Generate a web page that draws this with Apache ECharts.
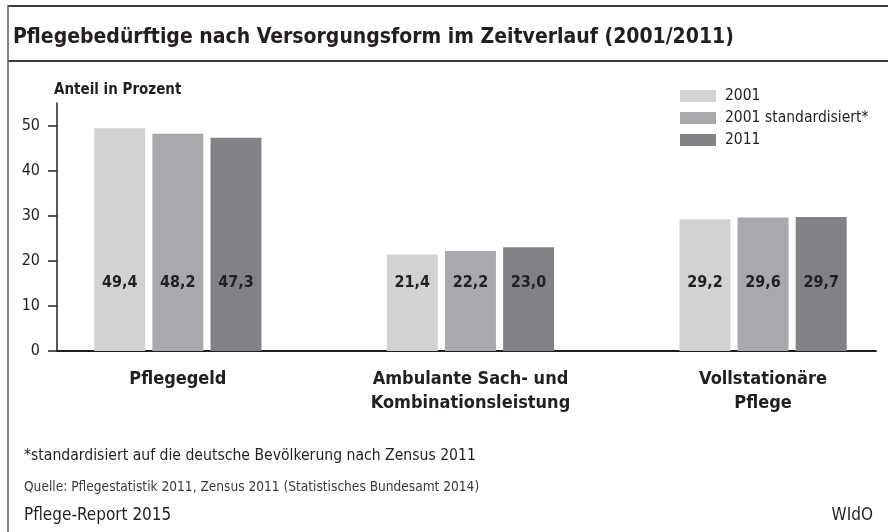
<!DOCTYPE html>
<html>
<head>
<meta charset="utf-8">
<script src="https://cdn.jsdelivr.net/npm/echarts@6/dist/echarts.min.js"></script>
<style>
  html, body { margin: 0; padding: 0; background: #fff; }
  #chart { width: 888px; height: 532px; }
</style>
</head>
<body>
<div id="chart"></div>
<script>
// Daten
const categories = ["Pflegegeld", "Ambulante Sach- und\nKombinationsleistung", "Vollstationäre\nPflege"];
const seriesNames = ["2001", "2001 standardisiert*", "2011"];
const v2001 = [49.4, 21.4, 29.2];
const v2001std = [48.2, 22.2, 29.6];
const v2011 = [47.3, 23.0, 29.7];
const yTicks = [0, 10, 20, 30, 40, 50];

const colors = ["#d1d2d4", "#a7a9ac", "#808285"];
const FONT = "'Liberation Sans Narrow', 'DejaVu Sans Condensed', sans-serif";
const INK = "#231f20";

const chart = echarts.init(document.getElementById("chart"), null, { renderer: "canvas" });

const fmtDe = (v) => v.toFixed(1).replace(".", ",");
// Kategorien auf Positionen 1..3 der Wertachse
const toPairs = (vals) => vals.map((v, i) => [i + 1, v]);

const makeSeries = (name, vals, idx) => ({
  name, type: "bar",
  data: toPairs(vals),
  barWidth: 51, barGap: "14%",
  itemStyle: { color: colors[idx] },
  label: {
    show: true, position: "insideBottom", distance: 60,
    formatter: (p) => fmtDe(p.value[1]),
    color: INK, fontFamily: FONT, fontWeight: "bold", fontSize: 16
  }
});

const txt = (size, weight, color) => ({ fontFamily: FONT, fontWeight: weight, fontSize: size, color });

chart.setOption({
  animation: false,
  backgroundColor: "#fff",
  title: [
    { text: "Pflegebedürftige nach Versorgungsform im Zeitverlauf (2001/2011)", left: 13, top: 27, padding: 0,
      textStyle: txt(21, "bold", INK) },
    { text: "Anteil in Prozent", left: 54, top: 83, padding: 0, textStyle: txt(15, "bold", INK) },
    { text: "*standardisiert auf die deutsche Bevölkerung nach Zensus 2011", left: 24, top: 448, padding: 0,
      textStyle: txt(15.6, "normal", INK) },
    { text: "Quelle: Pflegestatistik 2011, Zensus 2011 (Statistisches Bundesamt 2014)", left: 24, top: 480, padding: 0,
      textStyle: txt(13.6, "normal", "#3a3a3a") },
    { text: "Pflege-Report 2015", left: 24, top: 507, padding: 0, textStyle: txt(17, "normal", INK) },
    { text: "WIdO", right: 15, top: 507, padding: 0, textStyle: txt(17, "normal", INK) }
  ],
  legend: {
    orient: "vertical", left: 680, top: 88, padding: 0,
    itemWidth: 36, itemHeight: 12, itemGap: 6,
    icon: "rect",
    textStyle: { fontFamily: FONT, fontSize: 15.5, lineHeight: 16, color: INK, padding: [0, 0, 0, 4] },
    data: seriesNames
  },
  grid: { left: 57, right: 12, top: 103, bottom: 181, containLabel: false },
  xAxis: {
    type: "value", min: 0.587, max: 3.386,
    splitLine: { show: false },
    axisLine: { show: true, onZero: false, lineStyle: { color: INK, width: 2 } },
    axisTick: { show: false },
    axisLabel: {
      customValues: [1, 2, 3],
      formatter: (v) => categories[Math.round(v) - 1],
      margin: 16, color: INK, fontFamily: FONT, fontWeight: "bold", fontSize: 18, lineHeight: 24
    }
  },
  yAxis: {
    type: "value", min: 0, max: 55,
    splitLine: { show: false },
    axisLine: { show: true, lineStyle: { color: INK, width: 1.5 } },
    axisTick: { show: true, length: 9, customValues: yTicks, lineStyle: { color: INK, width: 1.5 } },
    axisLabel: { customValues: yTicks, margin: 17, color: INK, fontFamily: FONT, fontSize: 16 }
  },
  graphic: [
    { type: "line", shape: { x1: 8, y1: 6, x2: 888, y2: 6 }, style: { stroke: "#3c3c3c", lineWidth: 2 } },
    { type: "line", shape: { x1: 8, y1: 61, x2: 888, y2: 61 }, style: { stroke: "#3c3c3c", lineWidth: 2 } },
    { type: "line", shape: { x1: 8, y1: 5, x2: 8, y2: 532 }, style: { stroke: "#5a5a5a", lineWidth: 1.5 } }
  ],
  series: [
    makeSeries(seriesNames[0], v2001, 0),
    makeSeries(seriesNames[1], v2001std, 1),
    makeSeries(seriesNames[2], v2011, 2)
  ]
});
</script>
</body>
</html>
